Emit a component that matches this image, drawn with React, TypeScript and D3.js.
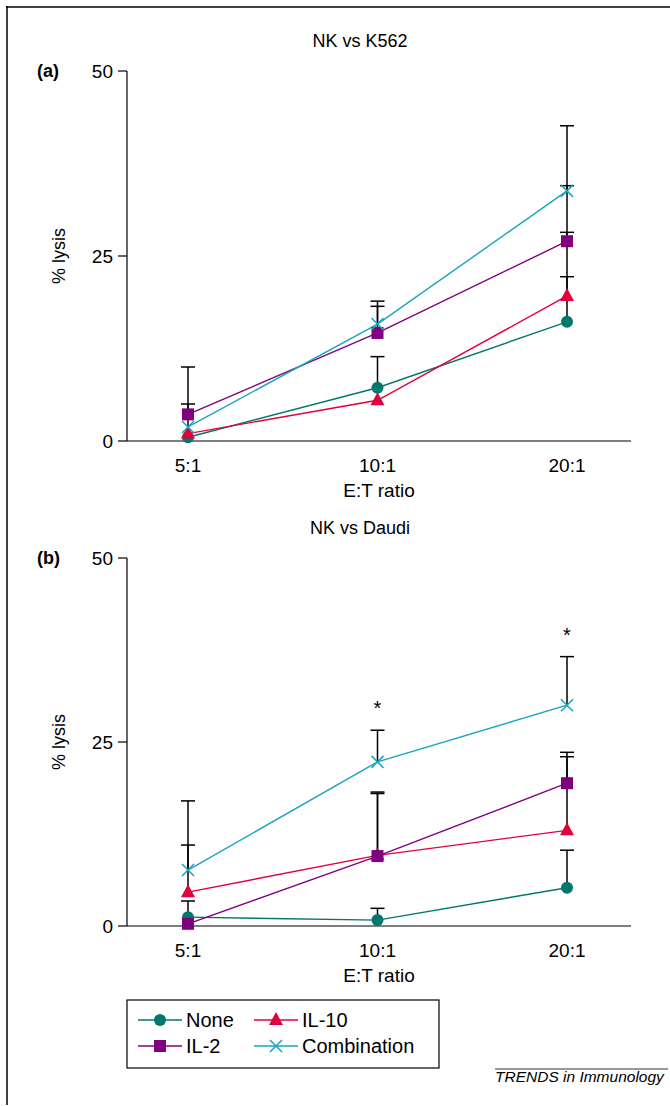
import React from 'react';
import * as d3 from 'd3';

// E:T ratios on the x axis
const ratios = ['5:1', '10:1', '20:1'];
const yTicks = [0, 25, 50];

// Panel (a) NK vs K562 : means and upper error (0 = no bar)
const noneA = [0.5, 7.2, 16.1];
const noneAErr = [0, 4.2, 6.1];
const il10A = [1.0, 5.5, 19.6];
const il10AErr = [0, 0, 8.6];
const il2A = [3.6, 14.6, 27.0];
const il2AErr = [6.4, 3.6, 7.5];
const comboA = [1.9, 15.8, 33.8];
const comboAErr = [3.1, 3.1, 8.8];

// Panel (b) NK vs Daudi
const noneB = [1.2, 0.8, 5.2];
const noneBErr = [2.2, 1.6, 5.1];
const il10B = [4.6, 9.6, 13.0];
const il10BErr = [6.4, 8.4, 10.0];
const il2B = [0.3, 9.5, 19.4];
const il2BErr = [0, 8.7, 4.2];
const comboB = [7.6, 22.3, 30.0];
const comboBErr = [9.4, 4.3, 6.6];
const starsB = [false, true, true]; // significance marks above combination

const series = [
  { key: 'none', label: 'None', color: '#00786c', shape: 'circle' },
  { key: 'il10', label: 'IL-10', color: '#e2003c', shape: 'triangle' },
  { key: 'il2', label: 'IL-2', color: '#800080', shape: 'square' },
  { key: 'combo', label: 'Combination', color: '#18a4c2', shape: 'cross' },
];

const FONT = '"Liberation Sans", Arial, sans-serif';

const Marker = ({ shape, color, x, y }: { shape: string; color: string; x: number; y: number }) => {
  if (shape === 'circle') return <circle cx={x} cy={y} r={6} fill={color} />;
  if (shape === 'square') return <rect x={x - 6} y={y - 6} width={12} height={12} fill={color} />;
  if (shape === 'triangle')
    return <path d={`M${x},${y - 8}L${x + 7},${y + 5}L${x - 7},${y + 5}Z`} fill={color} />;
  return (
    <path
      d={`M${x - 6},${y - 6}L${x + 6},${y + 6}M${x + 6},${y - 6}L${x - 6},${y + 6}`}
      stroke={color}
      strokeWidth={1.5}
      fill="none"
    />
  );
};

const Panel = ({ letter, title, y50, y0, data, stars }: any) => {
  const x = d3.scalePoint<string>().domain(ratios).range([188, 567]);
  const y = d3.scaleLinear().domain([0, 50]).range([y0, y50]);
  const axisLeft = 127;
  const axisRight = 631;
  const line = d3
    .line<number>()
    .x((_, i) => x(ratios[i]) as number)
    .y((d) => y(d));

  return (
    <g fontFamily={FONT}>
      <text x={360} y={y50 - 24} fontSize={18} textAnchor="middle">{title}</text>
      <text x={37} y={y50 + 6} fontSize={18} fontWeight="bold">{letter}</text>
      {/* y axis */}
      <line x1={axisLeft} x2={axisLeft} y1={y50} y2={y0} stroke="#000" strokeWidth={1.2} />
      {yTicks.map((t) => (
        <g key={t}>
          <line x1={axisLeft - 9} x2={axisLeft} y1={y(t)} y2={y(t)} stroke="#000" strokeWidth={1.2} />
          <text x={axisLeft - 14} y={y(t) + 7} fontSize={19} textAnchor="end">{t}</text>
        </g>
      ))}
      <text
        transform={`translate(65,${y(25)}) rotate(-90)`}
        fontSize={18}
        textAnchor="middle"
      >
        % lysis
      </text>
      {/* x axis */}
      <line x1={axisLeft} x2={axisRight} y1={y0} y2={y0} stroke="#000" strokeWidth={1.2} />
      {ratios.map((r) => (
        <text key={r} x={x(r)} y={y0 + 31} fontSize={19} textAnchor="middle">{r}</text>
      ))}
      <text x={(axisLeft + axisRight) / 2} y={y0 + 56} fontSize={19} textAnchor="middle">E:T ratio</text>
      {/* error bars */}
      {data.map((s: any) =>
        s.vals.map((v: number, i: number) =>
          s.err[i] > 0 ? (
            <g key={s.key + i} stroke="#000" strokeWidth={1.5}>
              <line x1={x(ratios[i])} x2={x(ratios[i])} y1={y(v)} y2={y(v + s.err[i])} />
              <line
                x1={(x(ratios[i]) as number) - 7}
                x2={(x(ratios[i]) as number) + 7}
                y1={y(v + s.err[i])}
                y2={y(v + s.err[i])}
              />
            </g>
          ) : null
        )
      )}
      {/* lines */}
      {data.map((s: any) => (
        <path key={s.key} d={line(s.vals) as string} fill="none" stroke={s.color} strokeWidth={1.4} />
      ))}
      {/* markers */}
      {data.map((s: any) =>
        s.vals.map((v: number, i: number) => (
          <Marker key={s.key + 'm' + i} shape={s.shape} color={s.color} x={x(ratios[i]) as number} y={y(v)} />
        ))
      )}
      {stars &&
        stars.map((on: boolean, i: number) =>
          on ? (
            <text key={'st' + i} x={x(ratios[i])} y={y(comboB[i] + comboBErr[i]) - 15} fontSize={20} textAnchor="middle">*</text>
          ) : null
        )}
    </g>
  );
};

export default function App() {
  const dataA = series.map((s) => ({
    ...s,
    vals: { none: noneA, il10: il10A, il2: il2A, combo: comboA }[s.key],
    err: { none: noneAErr, il10: il10AErr, il2: il2AErr, combo: comboAErr }[s.key],
  }));
  const dataB = series.map((s) => ({
    ...s,
    vals: { none: noneB, il10: il10B, il2: il2B, combo: comboB }[s.key],
    err: { none: noneBErr, il10: il10BErr, il2: il2BErr, combo: comboBErr }[s.key],
  }));

  // legend layout: two columns, two rows
  const legendOrder = ['none', 'il10', 'il2', 'combo'];
  const colX = [138, 254];
  const rowY = [1020, 1046];

  return (
    <svg
      width={670}
      height={1106}
      style={{ position: 'absolute', left: 0, top: 0, background: '#fff' }}
    >
      <rect width={670} height={1106} fill="#fff" />
      {/* frame */}
      <line x1={6} x2={670} y1={7} y2={7} stroke="#000" strokeWidth={1.5} />
      <line x1={7} x2={7} y1={6} y2={1105} stroke="#000" strokeWidth={1.5} />

      <Panel letter="(a)" title="NK vs K562" y50={71} y0={441} data={dataA} />
      <Panel letter="(b)" title="NK vs Daudi" y50={558} y0={926} data={dataB} stars={starsB} />

      {/* legend */}
      <rect x={127} y={1000} width={312} height={68} fill="none" stroke="#000" strokeWidth={1.2} />
      {legendOrder.map((k, i) => {
        const s = series.find((d) => d.key === k)!;
        const lx = colX[i % 2];
        const ly = rowY[Math.floor(i / 2)];
        return (
          <g key={k}>
            <line x1={lx} x2={lx + 44} y1={ly} y2={ly} stroke={s.color} strokeWidth={1.4} />
            <Marker shape={s.shape} color={s.color} x={lx + 22} y={ly} />
            <text x={lx + 48} y={ly + 7} fontSize={20} fontFamily={FONT}>{s.label}</text>
          </g>
        );
      })}

      {/* source */}
      <line x1={495} x2={668} y1={1069} y2={1069} stroke="#777" strokeWidth={1.5} />
      <text x={495} y={1082} fontSize={15.5} fontStyle="italic" fontFamily={FONT}>TRENDS in Immunology</text>
    </svg>
  );
}
